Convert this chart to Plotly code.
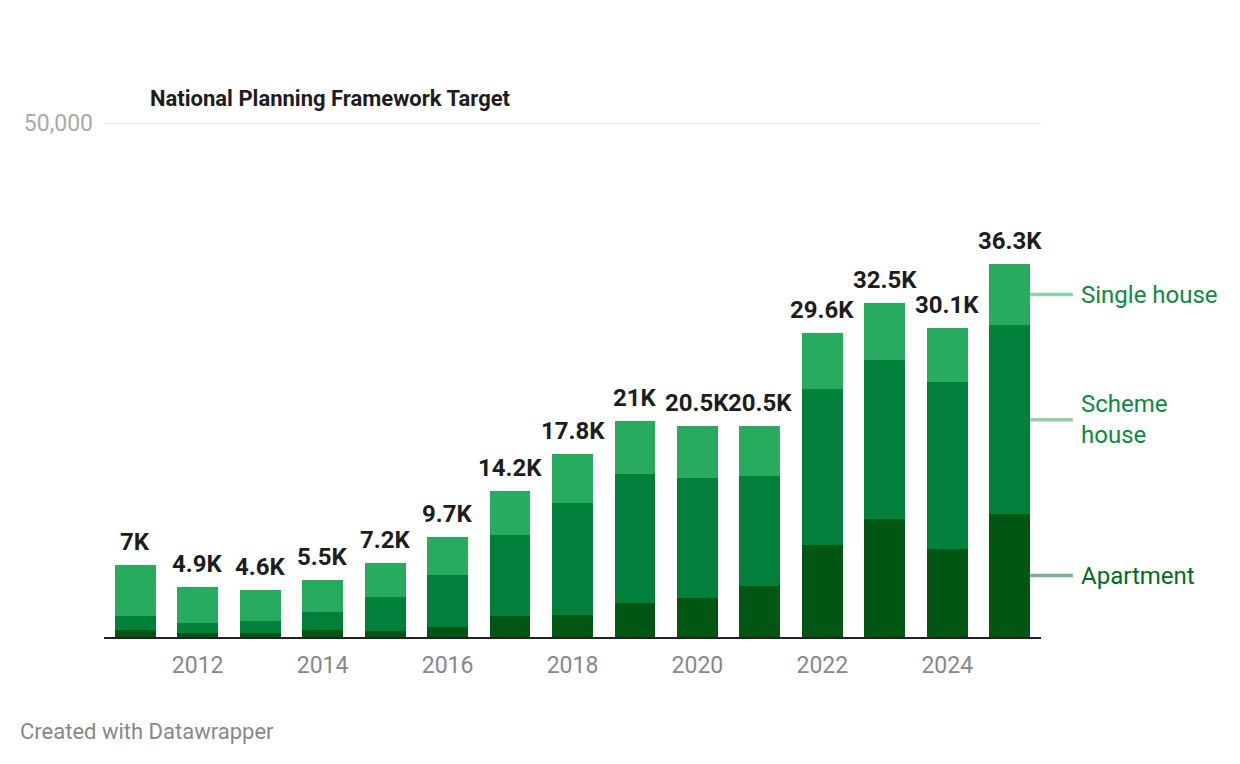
import plotly.graph_objects as go

years = list(range(2011, 2026))
apartment = [680, 400, 400, 680, 580, 970, 2070, 2170, 3330, 3820, 4990, 8940, 11470, 8550, 11960]
scheme_house = [1360, 970, 1160, 1750, 3310, 5060, 7870, 10880, 12540, 11660, 10690, 15160, 15450, 16240, 18370]
single_house = [4960, 3530, 3040, 3070, 3310, 3670, 4260, 4750, 5130, 5020, 4820, 5500, 5580, 5310, 5970]
x_ticks = [2012, 2014, 2016, 2018, 2020, 2022, 2024]
target = 50000
bar_w = 0.655
x_range = [2010.5, 2025.5]

series = [
    ("Apartment", apartment, "#005714", "#006b22", "#7fae8b"),
    ("Scheme<br>house", scheme_house, "#00803a", "#0b8a40", "#8fd0a8"),
    ("Single house", single_house, "#27ab5f", "#0b8a40", "#8fd0a8"),
]

totals = [a + b + c for a, b, c in zip(apartment, scheme_house, single_house)]


def fmt_k(v):
    s = "%.1f" % (v / 1000)
    if s.endswith(".0"):
        s = s[:-2]
    return s + "K"


fig = go.Figure()
for name, vals, col, _, _ in series:
    fig.add_trace(go.Bar(x=years, y=vals, name=name, marker_color=col,
                         marker_line_width=0, width=bar_w, hoverinfo="skip"))

# totals above bars
for yr, t in zip(years, totals):
    fig.add_annotation(x=yr, y=t, text="<b>" + fmt_k(t) + "</b>", showarrow=False,
                       yanchor="middle", yshift=23,
                       font=dict(family="Roboto", size=24, color="#1d1d1d"))

# direct labels next to the last bar (paper coords so the lines are not clipped)
base = 0
edge = (years[-1] + bar_w / 2 - x_range[0]) / (x_range[1] - x_range[0])
for name, vals, col, txtcol, linecol in series:
    mid = base + vals[-1] / 2
    base += vals[-1]
    fig.add_shape(type="line", xref="paper", yref="y", x0=edge, x1=1.034, y0=mid, y1=mid,
                  line=dict(color=linecol, width=3.5))
    fig.add_annotation(xref="paper", yref="y", x=1.0405, y=mid, text=name, showarrow=False,
                       xanchor="left", yanchor="middle", align="left",
                       font=dict(family="Roboto", size=24, color=txtcol))

# target gridline
fig.add_shape(type="line", xref="paper", yref="y", x0=0, x1=1, y0=target, y1=target,
              line=dict(color="#e2e2e2", width=1.5), layer="below")

fig.add_annotation(xref="paper", yref="paper", x=0.047, y=1.0467, xanchor="left", yanchor="middle",
                   text="<b>National Planning Framework Target</b>", showarrow=False,
                   font=dict(family="Roboto", size=22, color="#1d1d1d"))
fig.add_annotation(xref="paper", yref="paper", x=-0.0915, y=-0.183, xanchor="left", yanchor="middle",
                   text="Created with Datawrapper", showarrow=False,
                   font=dict(family="Roboto", size=22, color="#888888"))

fig.update_layout(
    barmode="stack",
    width=1232, height=756,
    margin=dict(l=96, r=199, t=115, b=127),
    plot_bgcolor="white", paper_bgcolor="white",
    showlegend=False,
    font=dict(family="Roboto"),
    xaxis=dict(range=x_range, tickvals=x_ticks, ticktext=[str(v) for v in x_ticks],
               showgrid=False, showline=True, linecolor="#222222", linewidth=2,
               ticks="", ticklabelstandoff=6,
               tickfont=dict(family="Roboto", size=23, color="#888888")),
    yaxis=dict(range=[0, target], tickvals=[target], ticktext=["50,000"],
               showgrid=False, zeroline=False,
               ticks="", ticklabelstandoff=10,
               tickfont=dict(family="Roboto", size=23, color="#aaaaaa")),
)

fig.write_html("out.html")
